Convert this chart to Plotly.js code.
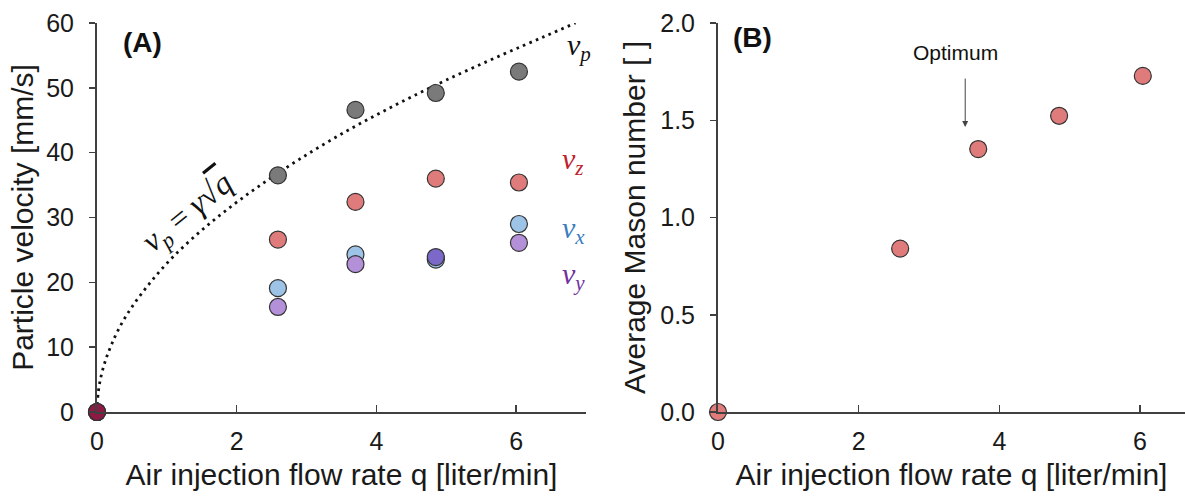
<!DOCTYPE html>
<html>
<head>
<meta charset="utf-8">
<script src="https://cdn.plot.ly/plotly-3.0.1.min.js"></script>
<style>html,body{margin:0;padding:0;background:#fff;}#chart{width:1185px;height:497px;}</style>
</head>
<body>
<div id="chart"></div>
<script>
// ---- Data ----
const flowRate = [0, 2.59, 3.70, 4.85, 6.04];           // q [liter/min]
const vp = [0, 36.5, 46.6, 49.2, 52.5];                // particle velocity magnitude
const vz = [0, 26.6, 32.4, 36.0, 35.4];
const vx = [0, 19.1, 24.3, 23.5, 29.0];
const vy = [0, 16.2, 22.8, 23.9, 26.1];
const masonNumber = [0, 0.84, 1.352, 1.523, 1.728];   // average Mason number

// dotted fit curve v_p = gamma*sqrt(q)
const fitQ = [0, 0.02, 0.06, 0.12, 0.2, 0.32, 0.5, 0.75, 1.05, 1.4, 1.8, 2.3, 2.9, 3.6, 4.3, 5.0, 5.8, 6.4, 6.85];
const fitV = [0, 3.2, 5.6, 7.9, 10.2, 13.0, 16.2, 19.8, 23.5, 27.1, 30.7, 34.7, 39.0, 43.5, 47.5, 51.2, 55.1, 57.9, 60.0];

const xTicksA = [0, 2, 4, 6];
const yTicksA = [0, 10, 20, 30, 40, 50, 60];
const yTicksB = [0, 0.5, 1.0, 1.5, 2.0];

const FONT = 'Liberation Sans, Arial, sans-serif';
const SERIF = 'Liberation Serif, DejaVu Serif, serif';
const AX = '#404040';
const TXT = '#1a1a1a';
const MS = 17;

function mk(color) {
  return {size: MS, color: color, line: {color: '#333333', width: 1.2}};
}

const traces = [
  {x: fitQ, y: fitV, mode: 'lines', type: 'scatter', line: {shape: 'spline', color: '#111', width: 2.8, dash: '2.6px,4.4px'}, cliponaxis: false, hoverinfo: 'skip'},
  {x: flowRate, y: vx, mode: 'markers', type: 'scatter', marker: mk('#9dc3e6'), cliponaxis: false},
  {x: flowRate, y: vy, mode: 'markers', type: 'scatter', marker: {size: MS, color: ['#b490d8', '#b490d8', '#b490d8', '#7b68c8', '#b490d8'], line: {color: '#333', width: 1.2}}, cliponaxis: false},
  {x: flowRate, y: vz, mode: 'markers', type: 'scatter', marker: mk('#e07b7b'), cliponaxis: false},
  {x: flowRate, y: vp, mode: 'markers', type: 'scatter', marker: {size: MS, color: ['#8c1a45', '#7a7a7a', '#7a7a7a', '#7a7a7a', '#7a7a7a'], line: {color: '#333', width: 1.2}}, cliponaxis: false},
  {x: flowRate, y: masonNumber, xaxis: 'x2', yaxis: 'y2', mode: 'markers', type: 'scatter', marker: mk('#e07b7b'), cliponaxis: false}
];

const axisCommon = {
  showgrid: false, zeroline: false, showline: true, linecolor: AX, linewidth: 2,
  tickcolor: AX, tickwidth: 1.5, tickfont: {family: FONT, size: 25, color: TXT},
  automargin: false, fixedrange: true
};
const titleFont = {family: FONT, size: 30, color: TXT};

const yDom = [85 / 497, 474 / 497];

function ann(px, py, text, font, extra) {
  return Object.assign({xref: 'paper', yref: 'paper', x: px / 1185, y: (497 - py) / 497,
    xanchor: 'center', yanchor: 'middle', text: text, showarrow: false, font: font}, extra || {});
}

const layout = {
  width: 1185, height: 497,
  margin: {l: 0, r: 0, t: 0, b: 0},
  paper_bgcolor: '#fff', plot_bgcolor: 'rgba(0,0,0,0)',
  showlegend: false,
  font: {family: FONT, color: TXT},
  xaxis: Object.assign({}, axisCommon, {
    domain: [97 / 1185, 586 / 1185], range: [0, 7],
    tickvals: xTicksA, ticks: 'inside', ticklen: 7, ticklabelstandoff: 6,
    title: {text: 'Air injection flow rate q [liter/min]', font: titleFont, standoff: 10}
  }),
  yaxis: Object.assign({}, axisCommon, {
    domain: yDom, range: [0, 60],
    tickvals: yTicksA, ticks: 'outside', ticklen: 6, ticklabelstandoff: 10,
    title: {text: 'Particle velocity [mm/s]', font: titleFont, standoff: 4}
  }),
  xaxis2: Object.assign({}, axisCommon, {
    domain: [718 / 1185, 1], range: [0, 6.64], anchor: 'y2',
    tickvals: xTicksA, ticks: 'inside', ticklen: 7, ticklabelstandoff: 6,
    title: {text: 'Air injection flow rate q [liter/min]', font: titleFont, standoff: 10}
  }),
  yaxis2: Object.assign({}, axisCommon, {
    domain: yDom, range: [0, 2], anchor: 'x2',
    tickvals: yTicksB, tickformat: '.1f', ticks: 'outside', ticklen: 6, ticklabelstandoff: 10,
    title: {text: 'Average Mason number [ ]', font: titleFont, standoff: 6}
  }),
  annotations: [
    ann(142, 42, '<b>(A)</b>', {family: FONT, size: 28, color: '#111'}),
    ann(753, 37, '<b>(B)</b>', {family: FONT, size: 28, color: '#111'}),
    ann(579, 47, '<i>v</i><sub><i>p</i></sub>', {family: SERIF, size: 30, color: '#111'}),
    ann(573, 161, '<i>v</i><sub><i>z</i></sub>', {family: SERIF, size: 30, color: '#c0202a'}),
    ann(573, 230, '<i>v</i><sub><i>x</i></sub>', {family: SERIF, size: 30, color: '#3a7cc0'}),
    ann(573, 276, '<i>v</i><sub><i>y</i></sub>', {family: SERIF, size: 30, color: '#7030a0'}),
    ann(188, 213, '<i>v</i><sub><i>p</i></sub> = <i>γ</i>√<span style="text-decoration:overline"><i>q</i></span>',
        {family: SERIF, size: 32, color: '#111'}, {textangle: -39}),
    ann(955, 52, 'Optimum', {family: FONT, size: 21, color: '#111'}),
    {xref: 'x2', yref: 'y2', x: 3.515, y: 1.465, ax: 0, ay: -50, text: '', showarrow: true, arrowhead: 2, arrowsize: 1.2, arrowwidth: 1, arrowcolor: '#444', standoff: 0}
  ]
};

Plotly.newPlot('chart', traces, layout, {displayModeBar: false, staticPlot: true});
</script>
</body>
</html>
